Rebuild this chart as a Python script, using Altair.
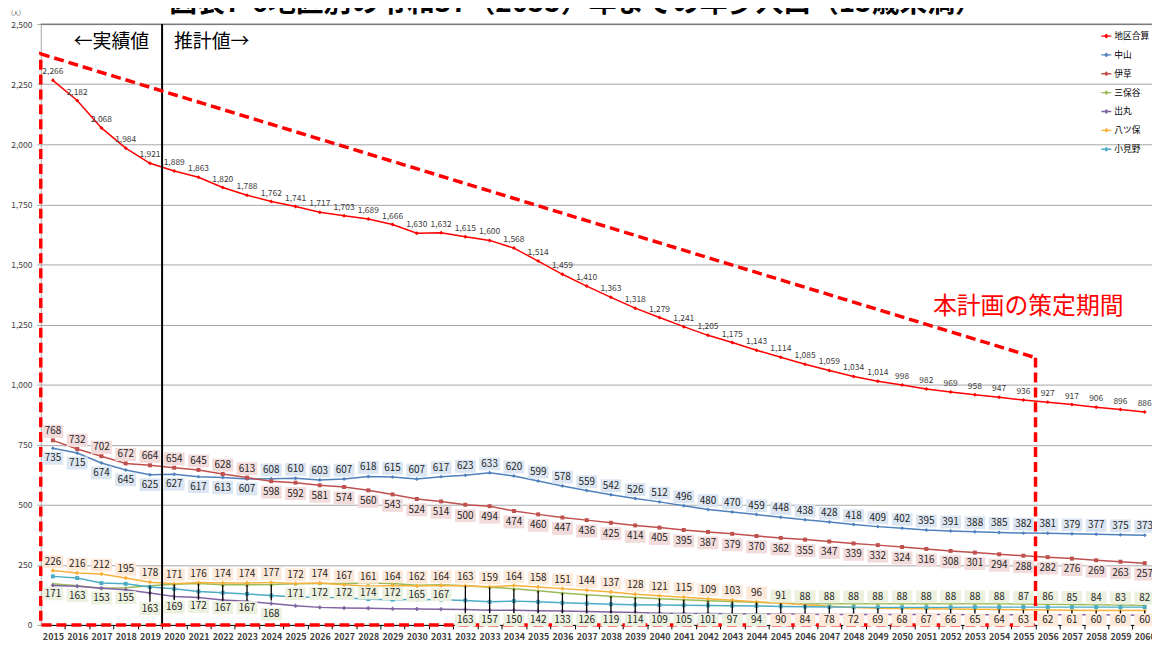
import altair as alt
import pandas as pd

FONT = "Noto Sans CJK JP"

YEARS = list(range(2015, 2061))
SERIES = ["地区合算", "中山", "伊草", "三保谷", "出丸", "八ツ保", "小見野"]
COLORS = ["#ff0000", "#4f81bd", "#c0504d", "#9bbb59", "#8064a2", "#f7b23c", "#4bacc6"]
SHAPES = ["diamond", "diamond", "square", "triangle-up", "cross", "cross", "square"]

TOTAL = [2266, 2182, 2068, 1984, 1921, 1889, 1863, 1820, 1788, 1762,
         1741, 1717, 1703, 1689, 1666, 1630, 1632, 1615, 1600, 1568,
         1514, 1459, 1410, 1363, 1318, 1279, 1241, 1205, 1175, 1143,
         1114, 1085, 1059, 1034, 1014, 998, 982, 969, 958, 947,
         936, 927, 917, 906, 896, 886]
NAKAYAMA = [735, 715, 674, 645, 625, 627, 617, 613, 607, 608,
            610, 603, 607, 618, 615, 607, 617, 623, 633, 620,
            599, 578, 559, 542, 526, 512, 496, 480, 470, 459,
            448, 438, 428, 418, 409, 402, 395, 391, 388, 385,
            382, 381, 379, 377, 375, 373]
IGUSA = [768, 732, 702, 672, 664, 654, 645, 628, 613, 598,
         592, 581, 574, 560, 543, 524, 514, 500, 494, 474,
         460, 447, 436, 425, 414, 405, 395, 387, 379, 370,
         362, 355, 347, 339, 332, 324, 316, 308, 301, 294,
         288, 282, 276, 269, 263, 257]
MIHOYA = [171, 163, 153, 155, 163, 169, 172, 167, 167, 168,
          171, 172, 172, 174, 172, 165, 167, 163, 157, 150,
          142, 133, 126, 119, 114, 109, 105, 101, 97, 94,
          91, 88, 88, 88, 88, 88, 88, 88, 88, 88,
          87, 86, 85, 84, 83, 82]
DEMARU = [164, 161, 153, 146, 133, 118, 114, 104, 98, 89,
          80, 73, 70, 69, 67, 66, 65, 64, 61, 61,
          59, 58, 56, 54, 52, 49, 48, 47, 46, 45,
          46, 44, 43, 43, 43, 43, 43, 43, 42, 42,
          42, 42, 42, 42, 41, 40]
YATSUHO = [226, 216, 212, 195, 178, 171, 176, 174, 174, 177,
           172, 174, 167, 161, 164, 162, 164, 163, 159, 164,
           158, 151, 144, 137, 128, 121, 115, 109, 103, 96,
           90, 84, 78, 72, 69, 68, 67, 66, 65, 64,
           63, 62, 61, 60, 60, 60]
KOMINO = [202, 195, 174, 171, 158, 150, 139, 134, 129, 122,
          116, 114, 113, 107, 105, 106, 105, 102, 96, 99,
          96, 92, 89, 86, 84, 83, 82, 81, 80, 79,
          77, 76, 75, 74, 73, 73, 73, 73, 74, 74,
          74, 74, 74, 74, 74, 74]

TITLE = "図表7-6地区別の令和37（2055）年までの年少人口（15歳未満）"
UNIT = "(人)"
ACTUAL_LABEL = "←実績値"
FORECAST_LABEL = "推計値→"
PLAN_LABEL = "本計画の策定期間"
SPLIT_YEAR = 2019.5
PLAN_X = [2055.5, 2055.5, 2014.5, 2014.5, 2055.5]
PLAN_Y = [1112, 0, 0, 2376, 1112]

VALUES = [TOTAL, NAKAYAMA, IGUSA, MIHOYA, DEMARU, YATSUHO, KOMINO]

rows = []
for s, vals in zip(SERIES, VALUES):
    for y, v in zip(YEARS, vals):
        rows.append({"year": y, "series": s, "value": v, "zero": 0})
df = pd.DataFrame(rows)

W, H = 1119, 605
STEP = W / 45.8

XS = alt.Scale(domain=[2014.5, 2060.3], nice=False, zero=False)
YS = alt.Scale(domain=[0, 2500], nice=False)
XAX = alt.Axis(values=YEARS, format="d", title=None, grid=False,
               tickOffset=STEP / 2, labelOffset=-STEP / 2, tickSize=4,
               tickColor="#000000", domainColor="#000000",
               labelFont=FONT, labelFontSize=9, labelFontWeight="bold",
               labelColor="#404040", labelPadding=4, labelOverlap=False,
               labelFlush=False, labelBound=False)
YAX = alt.Axis(values=list(range(0, 2501, 250)), format=",.0f", title=None,
               grid=True, gridColor="#a6a6a6", gridWidth=1, tickSize=4,
               tickColor="#a6a6a6", domainColor="#a6a6a6",
               labelFont=FONT, labelFontSize=8.5, labelColor="#404040",
               labelPadding=5, labelOverlap=False, labelFlush=False)


def X(f="year"):
    return alt.X(f"{f}:Q", scale=XS, axis=XAX)


def Y(f="value"):
    return alt.Y(f"{f}:Q", scale=YS, axis=YAX)


color_scale = alt.Scale(domain=SERIES, range=COLORS)

LEG_PATH = "M-1,0L1,0M-0.3,0L0,-0.3L0.3,0L0,0.3Z"

lines = alt.Chart(df).mark_line(strokeWidth=1.5).encode(
    x=X(), y=Y(),
    color=alt.Color("series:N", scale=color_scale, sort=SERIES,
                    legend=alt.Legend(orient="none", legendX=1067, legendY=6,
                                      title=None, symbolType=LEG_PATH,
                                      symbolSize=100, symbolStrokeWidth=1.3,
                                      labelFont=FONT, labelFontSize=8.8,
                                      labelColor="#000000", rowPadding=8,
                                      labelOffset=2, padding=0)),
    detail="series:N",
)


def sel(series, cond):
    return alt.Chart(df).transform_filter(f"datum.series == '{series}' && ({cond})")


point_layers = [
    sel(s, "true").mark_point(shape=sh, filled=True, size=16, opacity=1, strokeWidth=0,
                              fill=c).encode(x=X(), y=Y())
    for s, c, sh in zip(SERIES, COLORS, SHAPES)
]

top_rule = alt.Chart(pd.DataFrame({"year": [2014.5], "year2": [2060.3], "value": [2500]})).mark_rule(
    color="#595959", strokeWidth=1).encode(x=X(), x2="year2:Q", y=Y())

split = alt.Chart(pd.DataFrame({"year": [SPLIT_YEAR], "value": [0], "value2": [2500]})).mark_rule(
    color="#000000", strokeWidth=2).encode(x=X(), y=Y(), y2="value2:Q")

plan = alt.Chart(pd.DataFrame({"year": PLAN_X, "value": PLAN_Y, "i": list(range(len(PLAN_X)))})).mark_line(
    color="#ff0000", strokeWidth=3.5, strokeDash=[10, 5], strokeJoin="miter").encode(
    x=X(), y=Y(), order="i:Q")

BOX = "M-1,-0.62L1,-0.62L1,0.62L-1,0.62Z"


def labels(series, cond, dy, fill, bottom=False):
    base = sel(series, cond)
    yenc = Y("zero") if bottom else Y()
    box = base.mark_point(shape=BOX, filled=True, size=441, opacity=1, strokeWidth=0,
                          fill=fill, yOffset=dy).encode(x=X(), y=yenc)
    txt = base.mark_text(dy=dy, font=FONT, fontSize=10, color="#262626").encode(
        x=X(), y=yenc, text=alt.Text("value:Q", format=","))
    return [box, txt]


def leaders(series, cond, bottom=False, drop=16):
    base = sel(series, cond)
    if bottom:
        return base.mark_rule(color="#000000", strokeWidth=1.3, y2Offset=-11.5).encode(
            x=X(), y=Y(), y2="zero:Q")
    return base.mark_rule(color="#000000", strokeWidth=1.3, y2Offset=drop).encode(
        x=X(), y=Y(), y2="value:Q")


BLUE_BOX, PINK_BOX, GREEN_BOX, PEACH_BOX = "#dce6f2", "#f2dcdb", "#ebf1de", "#fde9d9"

layers = [top_rule, lines, split, plan] + point_layers
layers += [leaders("三保谷", "datum.year >= 2019 && datum.year <= 2024"),
           leaders("三保谷", "datum.year >= 2032 && datum.year <= 2044", bottom=True),
           leaders("八ツ保", "datum.year >= 2045", bottom=True)]
layers += labels("中山", "datum.year <= 2023", 10, BLUE_BOX)
layers += labels("中山", "datum.year >= 2024", -9, BLUE_BOX)
layers += labels("伊草", "datum.year <= 2023", -9, PINK_BOX)
layers += labels("伊草", "datum.year >= 2024", 11, PINK_BOX)
layers += labels("三保谷", "datum.year <= 2018 || (datum.year >= 2025 && datum.year <= 2031)", 10, GREEN_BOX)
layers += labels("三保谷", "datum.year >= 2019 && datum.year <= 2023", 23, GREEN_BOX)
layers += labels("三保谷", "datum.year == 2024", 30, GREEN_BOX)
layers += labels("三保谷", "datum.year >= 2032 && datum.year <= 2044", -5, GREEN_BOX, bottom=True)
layers += labels("三保谷", "datum.year >= 2045", -7, GREEN_BOX)
layers += labels("八ツ保", "datum.year <= 2044", -9, PEACH_BOX)
layers += labels("八ツ保", "datum.year >= 2045", -5, PEACH_BOX, bottom=True)

total_labels = sel("地区合算", "true").mark_text(dy=-9, font=FONT, fontSize=8.5, color="#404040").encode(
    x=X(), y=Y(), text=alt.Text("value:Q", format=","))
layers.append(total_labels)

ann = pd.DataFrame({"year": [SPLIT_YEAR, SPLIT_YEAR], "value": [2425, 2425],
                    "t": [ACTUAL_LABEL, FORECAST_LABEL]})
layers.append(alt.Chart(ann.iloc[[0]]).mark_text(align="right", dx=-13, font=FONT, fontSize=19,
                                                 color="#000000").encode(x=X(), y=Y(), text="t:N"))
layers.append(alt.Chart(ann.iloc[[1]]).mark_text(align="left", dx=12, font=FONT, fontSize=19,
                                                 color="#000000").encode(x=X(), y=Y(), text="t:N"))
plan_txt = pd.DataFrame({"year": [2055.2], "value": [1322], "t": [PLAN_LABEL]})
layers.append(alt.Chart(plan_txt).mark_text(font=FONT, fontSize=24, color="#ff0000").encode(
    x=X(), y=Y(), text="t:N"))

title = alt.Chart(pd.DataFrame({"t": [TITLE]})).mark_text(
    font=FONT, fontSize=28, fontWeight="bold", baseline="bottom", align="center",
    color="#000000").encode(x=alt.value(539), y=alt.value(-6), text="t:N")
unit = alt.Chart(pd.DataFrame({"t": [UNIT]})).mark_text(
    font=FONT, fontSize=6, align="left", color="#404040").encode(
    x=alt.value(-30), y=alt.value(-11), text="t:N")
layers += [title, unit]

chart = alt.layer(*layers).properties(
    width=W, height=H,
    autosize=alt.AutoSizeParams(type="none"),
    padding={"left": 33, "top": 14, "right": 0, "bottom": 18},
    background="white",
).configure_view(stroke=None)

chart.save("out.html", embed_options={"renderer": "svg", "actions": False})
